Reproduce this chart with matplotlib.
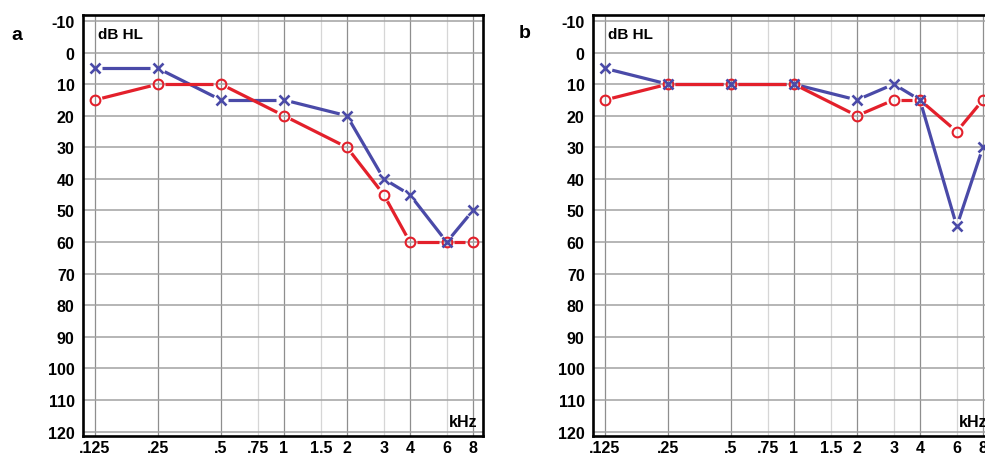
import numpy as np
import matplotlib
matplotlib.use("Agg")
import matplotlib.pyplot as plt

# ---- data ----
freqs = [0.125, 0.25, 0.5, 1, 2, 3, 4, 6, 8]
a_right = [15, 10, 10, 20, 30, 45, 60, 60, 60]   # red O
a_left = [5, 5, 15, 15, 20, 40, 45, 60, 50]      # blue X
b_right = [15, 10, 10, 10, 20, 15, 15, 25, 15]   # red O
b_left = [5, 10, 10, 10, 15, 10, 15, 55, 30]     # blue X

major_ticks = [0.125, 0.25, 0.5, 1, 2, 4, 8]
major_labels = ['.125', '.25', '.5', '1', '2', '4', '8']
minor_ticks = [0.75, 1.5, 3, 6]
minor_labels = ['.75', '1.5', '3', '6']
y_ticks = list(range(-10, 121, 10))
y_labels = [str(v) for v in y_ticks]

RED = '#e3202b'
BLUE = '#4a4aa8'
NARROW = ['Liberation Sans Narrow', 'Liberation Sans', 'DejaVu Sans']
SANS = ['Liberation Sans', 'DejaVu Sans']

fig = plt.figure(figsize=(9.85, 4.56), dpi=100)
W, H = 985, 456


def make_axes(left_px):
    ax = fig.add_axes([left_px / W, 19 / H, 400 / W, 421 / H])
    ax.set_xscale('log', base=2)
    ax.set_xlim(0.125 * 2 ** -0.19, 8 * 2 ** 0.16)
    ax.set_ylim(121.4, -11.9)
    ax.set_xticks(major_ticks, major_labels)
    ax.set_xticks(minor_ticks, minor_labels, minor=True)
    ax.set_yticks(y_ticks, y_labels)
    ax.tick_params(which='both', length=0)
    ax.tick_params(axis='y', pad=6)
    ax.tick_params(axis='x', which='both', pad=3)
    for lab in ax.get_xticklabels(which='both') + ax.get_yticklabels():
        lab.set_family(NARROW)
        lab.set_fontweight('bold')
        lab.set_fontsize(11.5)
    ax.grid(True, which='major', axis='x', color='#8e8e8e', lw=0.9)
    ax.grid(True, which='minor', axis='x', color='#d6d6d6', lw=0.9)
    ax.grid(True, which='major', axis='y', color='#a2a2a2', lw=1.1)
    ax.set_axisbelow(True)
    for s in ax.spines.values():
        s.set_linewidth(1.9)
        s.set_color('black')
    ax.text(0.037, 0.955, 'dB HL', transform=ax.transAxes, ha='left', va='center',
            fontsize=11, fontweight='bold', family=NARROW)
    ax.text(0.985, 0.035, 'kHz', transform=ax.transAxes, ha='right', va='center',
            fontsize=11.5, fontweight='bold', family=NARROW)
    return ax


def gapped(ax, xs, ys, color, gap=7.5, z=3):
    pts = ax.transData.transform(np.column_stack([xs, ys]))
    inv = ax.transData.inverted()
    for p0, p1 in zip(pts[:-1], pts[1:]):
        d = p1 - p0
        L = np.hypot(*d)
        if L <= 2 * gap:
            continue
        u = d / L
        seg = inv.transform(np.array([p0 + u * gap, p1 - u * gap]))
        ax.plot(seg[:, 0], seg[:, 1], color=color, lw=2.3,
                solid_capstyle='butt', zorder=z)


def draw(ax, right, left):
    gapped(ax, freqs, left, BLUE, z=3)
    gapped(ax, freqs, right, RED, z=4)
    ax.plot(freqs, right, ls='none', marker='o', ms=7, mfc='none',
            mec=RED, mew=1.5, zorder=5)
    ax.plot(freqs, left, ls='none', marker='x', ms=6.6,
            mec=BLUE, mew=1.9, zorder=6)


ax_a = make_axes(83)
ax_b = make_axes(593)
draw(ax_a, a_right, a_left)
draw(ax_b, b_right, b_left)

fig.text(17 / W, 1 - 36 / H, 'a', fontsize=14, fontweight='bold', family=SANS,
         ha='center', va='center')
fig.text(525 / W, 1 - 34 / H, 'b', fontsize=14, fontweight='bold', family=SANS,
         ha='center', va='center')

fig.savefig('out.png', dpi=100)
